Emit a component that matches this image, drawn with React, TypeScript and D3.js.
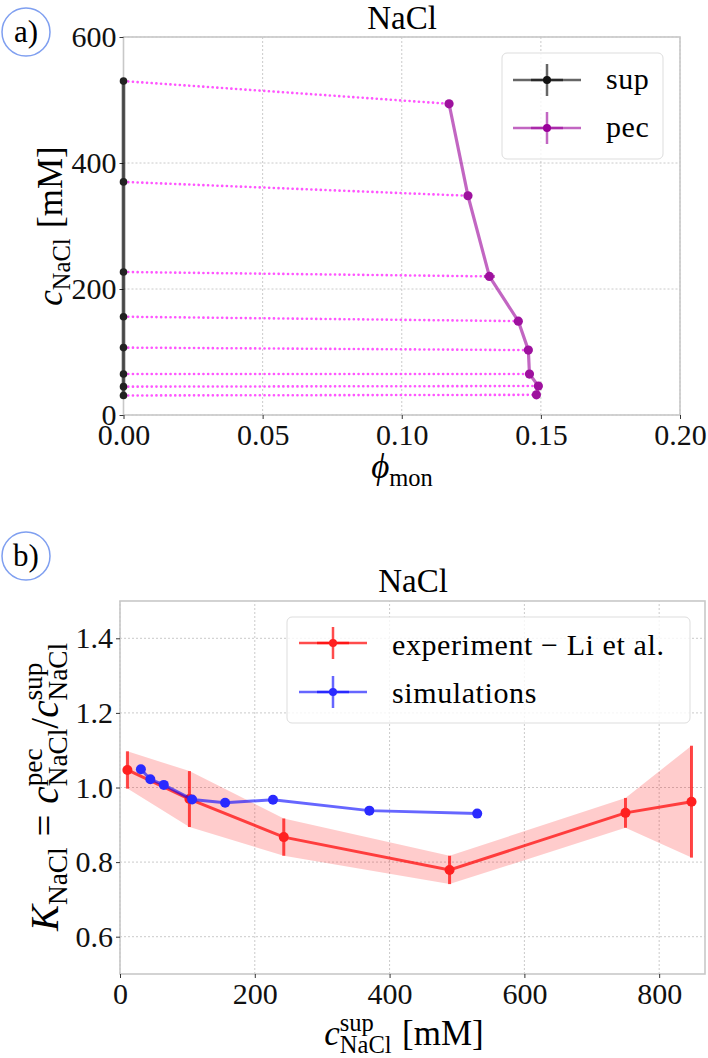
import React, { useEffect, useRef } from "react";
import * as d3 from "d3";

// supernatant salt concentration [mM] (shared by both panels)
const supConc = [530, 370, 227, 156, 107, 65, 45, 31];
const supPhi = [0, 0, 0, 0, 0, 0, 0, 0];
// coacervate (pec) phase
const pecConc = [494, 348, 220, 149, 103, 65, 46, 32];
const pecPhi = [0.117, 0.1238, 0.1315, 0.1419, 0.1455, 0.1459, 0.1491, 0.1484];
const pecPhiErr = [0.001, 0.001, 0.002, 0.001, 0.0006, 0.0006, 0.0006, 0.0006];
// partition coefficient from simulations
const simK = [0.93, 0.938, 0.967, 0.959, 0.968, 1.007, 1.022, 1.049];
// experiment (Li et al.)
const expConc = [11, 103, 243, 489, 750, 848];
const expK = [1.047, 0.969, 0.867, 0.779, 0.932, 0.962];
const expKErr = [0.05, 0.075, 0.05, 0.038, 0.04, 0.15];

const phiTicks = [0, 0.05, 0.1, 0.15, 0.2];
const concTicks = [0, 200, 400, 600];
const kTicks = [0.6, 0.8, 1.0, 1.2, 1.4];
const supTicks = [0, 200, 400, 600, 800];

const FONT = "'Liberation Serif', 'DejaVu Serif', serif";
const TICK_FS = 30;
const LABEL_FS = 35;

type Piece = { t: string; it?: boolean; pos?: "sup" | "sub"; stack?: boolean; gap?: number };

// lays out a small math-like label piece by piece, returns its width
function mathText(g: any, pieces: Piece[], size: number) {
  let x = 0;
  let prevStart = 0;
  pieces.forEach((p) => {
    const fs = p.pos ? size * 0.7 : size;
    const start = p.stack ? prevStart : x + (p.gap || 0) * size;
    const dy = p.pos === "sup" ? -size * 0.4 : p.pos === "sub" ? size * 0.24 : 0;
    const el = g
      .append("text")
      .attr("x", start)
      .attr("y", dy)
      .attr("font-size", fs)
      .attr("font-style", p.it ? "italic" : "normal")
      .text(p.t);
    const w = el.node().getComputedTextLength();
    x = Math.max(x, start + w);
    prevStart = start;
  });
  return x;
}

function hLabel(svg: any, pieces: Piece[], size: number, cx: number, y: number) {
  const g = svg.append("g").style("font-family", FONT);
  const w = mathText(g, pieces, size);
  g.attr("transform", `translate(${cx - w / 2},${y})`);
}

function vLabel(svg: any, pieces: Piece[], size: number, x: number, cy: number) {
  const g = svg.append("g").style("font-family", FONT);
  const w = mathText(g, pieces, size);
  g.attr("transform", `translate(${x},${cy + w / 2}) rotate(-90)`);
}

// grid, ticks, tick labels and the light frame around the axes
function frame(svg: any, x: any, y: any, xt: number[], yt: number[], xf: any, yf: any) {
  const [x0, x1] = x.range();
  const [y0, y1] = y.range();
  const grid = svg.append("g").attr("stroke", "#c4c4c4").attr("stroke-width", 0.9).attr("stroke-dasharray", "2,2");
  xt.forEach((t) => grid.append("line").attr("x1", x(t)).attr("x2", x(t)).attr("y1", y0).attr("y2", y1));
  yt.forEach((t) => grid.append("line").attr("x1", x0).attr("x2", x1).attr("y1", y(t)).attr("y2", y(t)));

  svg
    .append("rect")
    .attr("x", x0)
    .attr("y", y1)
    .attr("width", x1 - x0)
    .attr("height", y0 - y1)
    .attr("fill", "none")
    .attr("stroke", "#c8c8c8")
    .attr("stroke-width", 1.6);

  const ax = svg
    .append("g")
    .attr("transform", `translate(0,${y0})`)
    .call(d3.axisBottom(x).tickValues(xt).tickFormat(xf).tickSize(4).tickPadding(5));
  const ay = svg
    .append("g")
    .attr("transform", `translate(${x0},0)`)
    .call(d3.axisLeft(y).tickValues(yt).tickFormat(yf).tickSize(4).tickPadding(3));
  [ax, ay].forEach((a) => {
    a.select(".domain").remove();
    a.selectAll("line").attr("stroke", "#333");
    a.selectAll("text").style("font-family", FONT).attr("font-size", TICK_FS).attr("fill", "#111");
  });
}

function panelTag(svg: any, label: string, cx: number, cy: number) {
  svg.append("circle").attr("cx", cx).attr("cy", cy).attr("r", 24).attr("fill", "none").attr("stroke", "#7f9ff0").attr("stroke-width", 1.5);
  svg
    .append("text")
    .attr("x", cx)
    .attr("y", cy + 10)
    .attr("text-anchor", "middle")
    .style("font-family", FONT)
    .attr("font-size", 31)
    .text(label);
}

function legendEntry(g: any, x: number, y: number, color: string, dot: string, text: string, tx: number, textY: number) {
  g.append("line").attr("x1", x).attr("x2", x + 68).attr("y1", y).attr("y2", y).attr("stroke", color).attr("stroke-width", 2.5);
  g.append("line").attr("x1", x + 18).attr("x2", x + 50).attr("y1", y).attr("y2", y).attr("stroke", color).attr("stroke-width", 2.5);
  g.append("line").attr("x1", x + 34).attr("x2", x + 34).attr("y1", y - 16).attr("y2", y + 16).attr("stroke", color).attr("stroke-width", 2.5);
  g.append("circle").attr("cx", x + 34).attr("cy", y).attr("r", 4).attr("fill", dot);
  g.append("text")
    .attr("x", tx)
    .attr("y", textY)
    .style("font-family", FONT)
    .attr("font-size", 30)
    .attr("letter-spacing", 0.6)
    .style("white-space", "pre")
    .text(text);
}

const App = () => {
  const svgRef = useRef<SVGSVGElement>(null);

  useEffect(() => {
    const svg = d3.select(svgRef.current);
    svg.selectAll("*").remove();

    // ---------- panel a ----------
    const xa = d3.scaleLinear().domain([0, 0.2]).range([123.5, 680]);
    const ya = d3.scaleLinear().domain([0, 600]).range([415, 37]);
    frame(svg, xa, ya, phiTicks, concTicks, d3.format(".2f"), d3.format("d"));

    // tie lines between coexisting phases
    const tie = svg.append("g").attr("stroke", "#ff55ff").attr("stroke-width", 2.6).attr("stroke-linecap", "round").attr("stroke-dasharray", "0.1,4.6");
    supConc.forEach((c, i) => {
      tie.append("line").attr("x1", xa(supPhi[i])).attr("y1", ya(c)).attr("x2", xa(pecPhi[i])).attr("y2", ya(pecConc[i]));
    });

    const supPath = d3.line<number>().x((_, i) => xa(supPhi[i])).y((d) => ya(d));
    svg.append("path").attr("d", supPath(supConc)).attr("fill", "none").attr("stroke", "#000").attr("stroke-opacity", 0.65).attr("stroke-width", 3.6);
    supConc.forEach((c, i) => {
      svg.append("circle").attr("cx", xa(supPhi[i])).attr("cy", ya(c)).attr("r", 3.8).attr("fill", "#222");
    });

    const pecPath = d3.line<number>().x((_, i) => xa(pecPhi[i])).y((d) => ya(d));
    svg.append("path").attr("d", pecPath(pecConc)).attr("fill", "none").attr("stroke", "#990099").attr("stroke-opacity", 0.6).attr("stroke-width", 3.2);
    pecConc.forEach((c, i) => {
      svg
        .append("line")
        .attr("x1", xa(pecPhi[i] - pecPhiErr[i]))
        .attr("x2", xa(pecPhi[i] + pecPhiErr[i]))
        .attr("y1", ya(c))
        .attr("y2", ya(c))
        .attr("stroke", "#990099")
        .attr("stroke-opacity", 0.6)
        .attr("stroke-width", 3);
      svg.append("circle").attr("cx", xa(pecPhi[i])).attr("cy", ya(c)).attr("r", 4.6).attr("fill", "#9e119e");
    });

    const legA = svg.append("g");
    legA.append("rect").attr("x", 502).attr("y", 53).attr("width", 161).attr("height", 106).attr("rx", 5).attr("fill", "#fff").attr("fill-opacity", 0.8).attr("stroke", "#ddd");
    legendEntry(legA, 513, 80, "rgba(0,0,0,0.6)", "#111", "sup", 606, 89);
    legendEntry(legA, 513, 128, "rgba(153,0,153,0.6)", "#990099", "pec", 606, 137);

    svg.append("text").attr("x", 402).attr("y", 29).attr("text-anchor", "middle").style("font-family", FONT).attr("font-size", 33).text("NaCl");
    hLabel(svg, [{ t: "\u03d5", it: true }, { t: "mon", pos: "sub" }], LABEL_FS, 402, 478);
    vLabel(svg, [{ t: "c", it: true }, { t: "NaCl", pos: "sub" }, { t: "[mM]", gap: 0.3 }], LABEL_FS, 62, 226);
    panelTag(svg, "a)", 26, 32);

    // ---------- panel b ----------
    const xb = d3.scaleLinear().domain([0, 868]).range([120, 705]);
    const yb = d3.scaleLinear().domain([0.5, 1.5]).range([974, 601]);
    frame(svg, xb, yb, supTicks, kTicks, d3.format("d"), d3.format(".1f"));

    const band = d3
      .area<number>()
      .x((d) => xb(d))
      .y0((_, i) => yb(expK[i] - expKErr[i]))
      .y1((_, i) => yb(expK[i] + expKErr[i]));
    svg.append("path").attr("d", band(expConc)).attr("fill", "#ff0000").attr("fill-opacity", 0.2);

    const expLine = d3.line<number>().x((d) => xb(d)).y((_, i) => yb(expK[i]));
    svg.append("path").attr("d", expLine(expConc)).attr("fill", "none").attr("stroke", "#ff0000").attr("stroke-opacity", 0.7).attr("stroke-width", 3);
    expConc.forEach((c, i) => {
      svg
        .append("line")
        .attr("x1", xb(c))
        .attr("x2", xb(c))
        .attr("y1", yb(expK[i] - expKErr[i]))
        .attr("y2", yb(expK[i] + expKErr[i]))
        .attr("stroke", "#ff0000")
        .attr("stroke-opacity", 0.7)
        .attr("stroke-width", 3);
      svg.append("circle").attr("cx", xb(c)).attr("cy", yb(expK[i])).attr("r", 5).attr("fill", "#ff2020");
    });

    const simLine = d3.line<number>().x((d) => xb(d)).y((_, i) => yb(simK[i]));
    svg.append("path").attr("d", simLine(supConc)).attr("fill", "none").attr("stroke", "#0000ff").attr("stroke-opacity", 0.6).attr("stroke-width", 3);
    supConc.forEach((c, i) => {
      svg.append("circle").attr("cx", xb(c)).attr("cy", yb(simK[i])).attr("r", 5).attr("fill", "#2a2aff");
    });

    const legB = svg.append("g");
    legB.append("rect").attr("x", 287).attr("y", 617).attr("width", 403).attr("height", 106).attr("rx", 5).attr("fill", "#fff").attr("fill-opacity", 0.8).attr("stroke", "#ddd");
    legendEntry(legB, 299, 643, "rgba(255,0,0,0.7)", "#ff2020", "experiment \u2212 Li et al.", 392, 655);
    legendEntry(legB, 299, 692, "rgba(0,0,255,0.6)", "#2a2aff", "simulations", 392, 703);

    svg.append("text").attr("x", 413).attr("y", 592).attr("text-anchor", "middle").style("font-family", FONT).attr("font-size", 33).text("NaCl");
    hLabel(
      svg,
      [{ t: "c", it: true }, { t: "sup", pos: "sup" }, { t: "NaCl", pos: "sub", stack: true }, { t: "[mM]", gap: 0.3 }],
      LABEL_FS,
      404,
      1045
    );
    vLabel(
      svg,
      [
        { t: "K", it: true },
        { t: "NaCl", pos: "sub" },
        { t: "=", gap: 0.28 },
        { t: "c", it: true, gap: 0.28 },
        { t: "pec", pos: "sup" },
        { t: "NaCl", pos: "sub", stack: true },
        { t: "/" },
        { t: "c", it: true },
        { t: "sup", pos: "sup" },
        { t: "NaCl", pos: "sub", stack: true },
      ],
      39,
      58,
      787
    );
    panelTag(svg, "b)", 26, 556);
  }, []);

  return <svg ref={svgRef} width={708} height={1058} style={{ position: "absolute", left: 0, top: 0, background: "#fff" }} />;
};

export default App;
